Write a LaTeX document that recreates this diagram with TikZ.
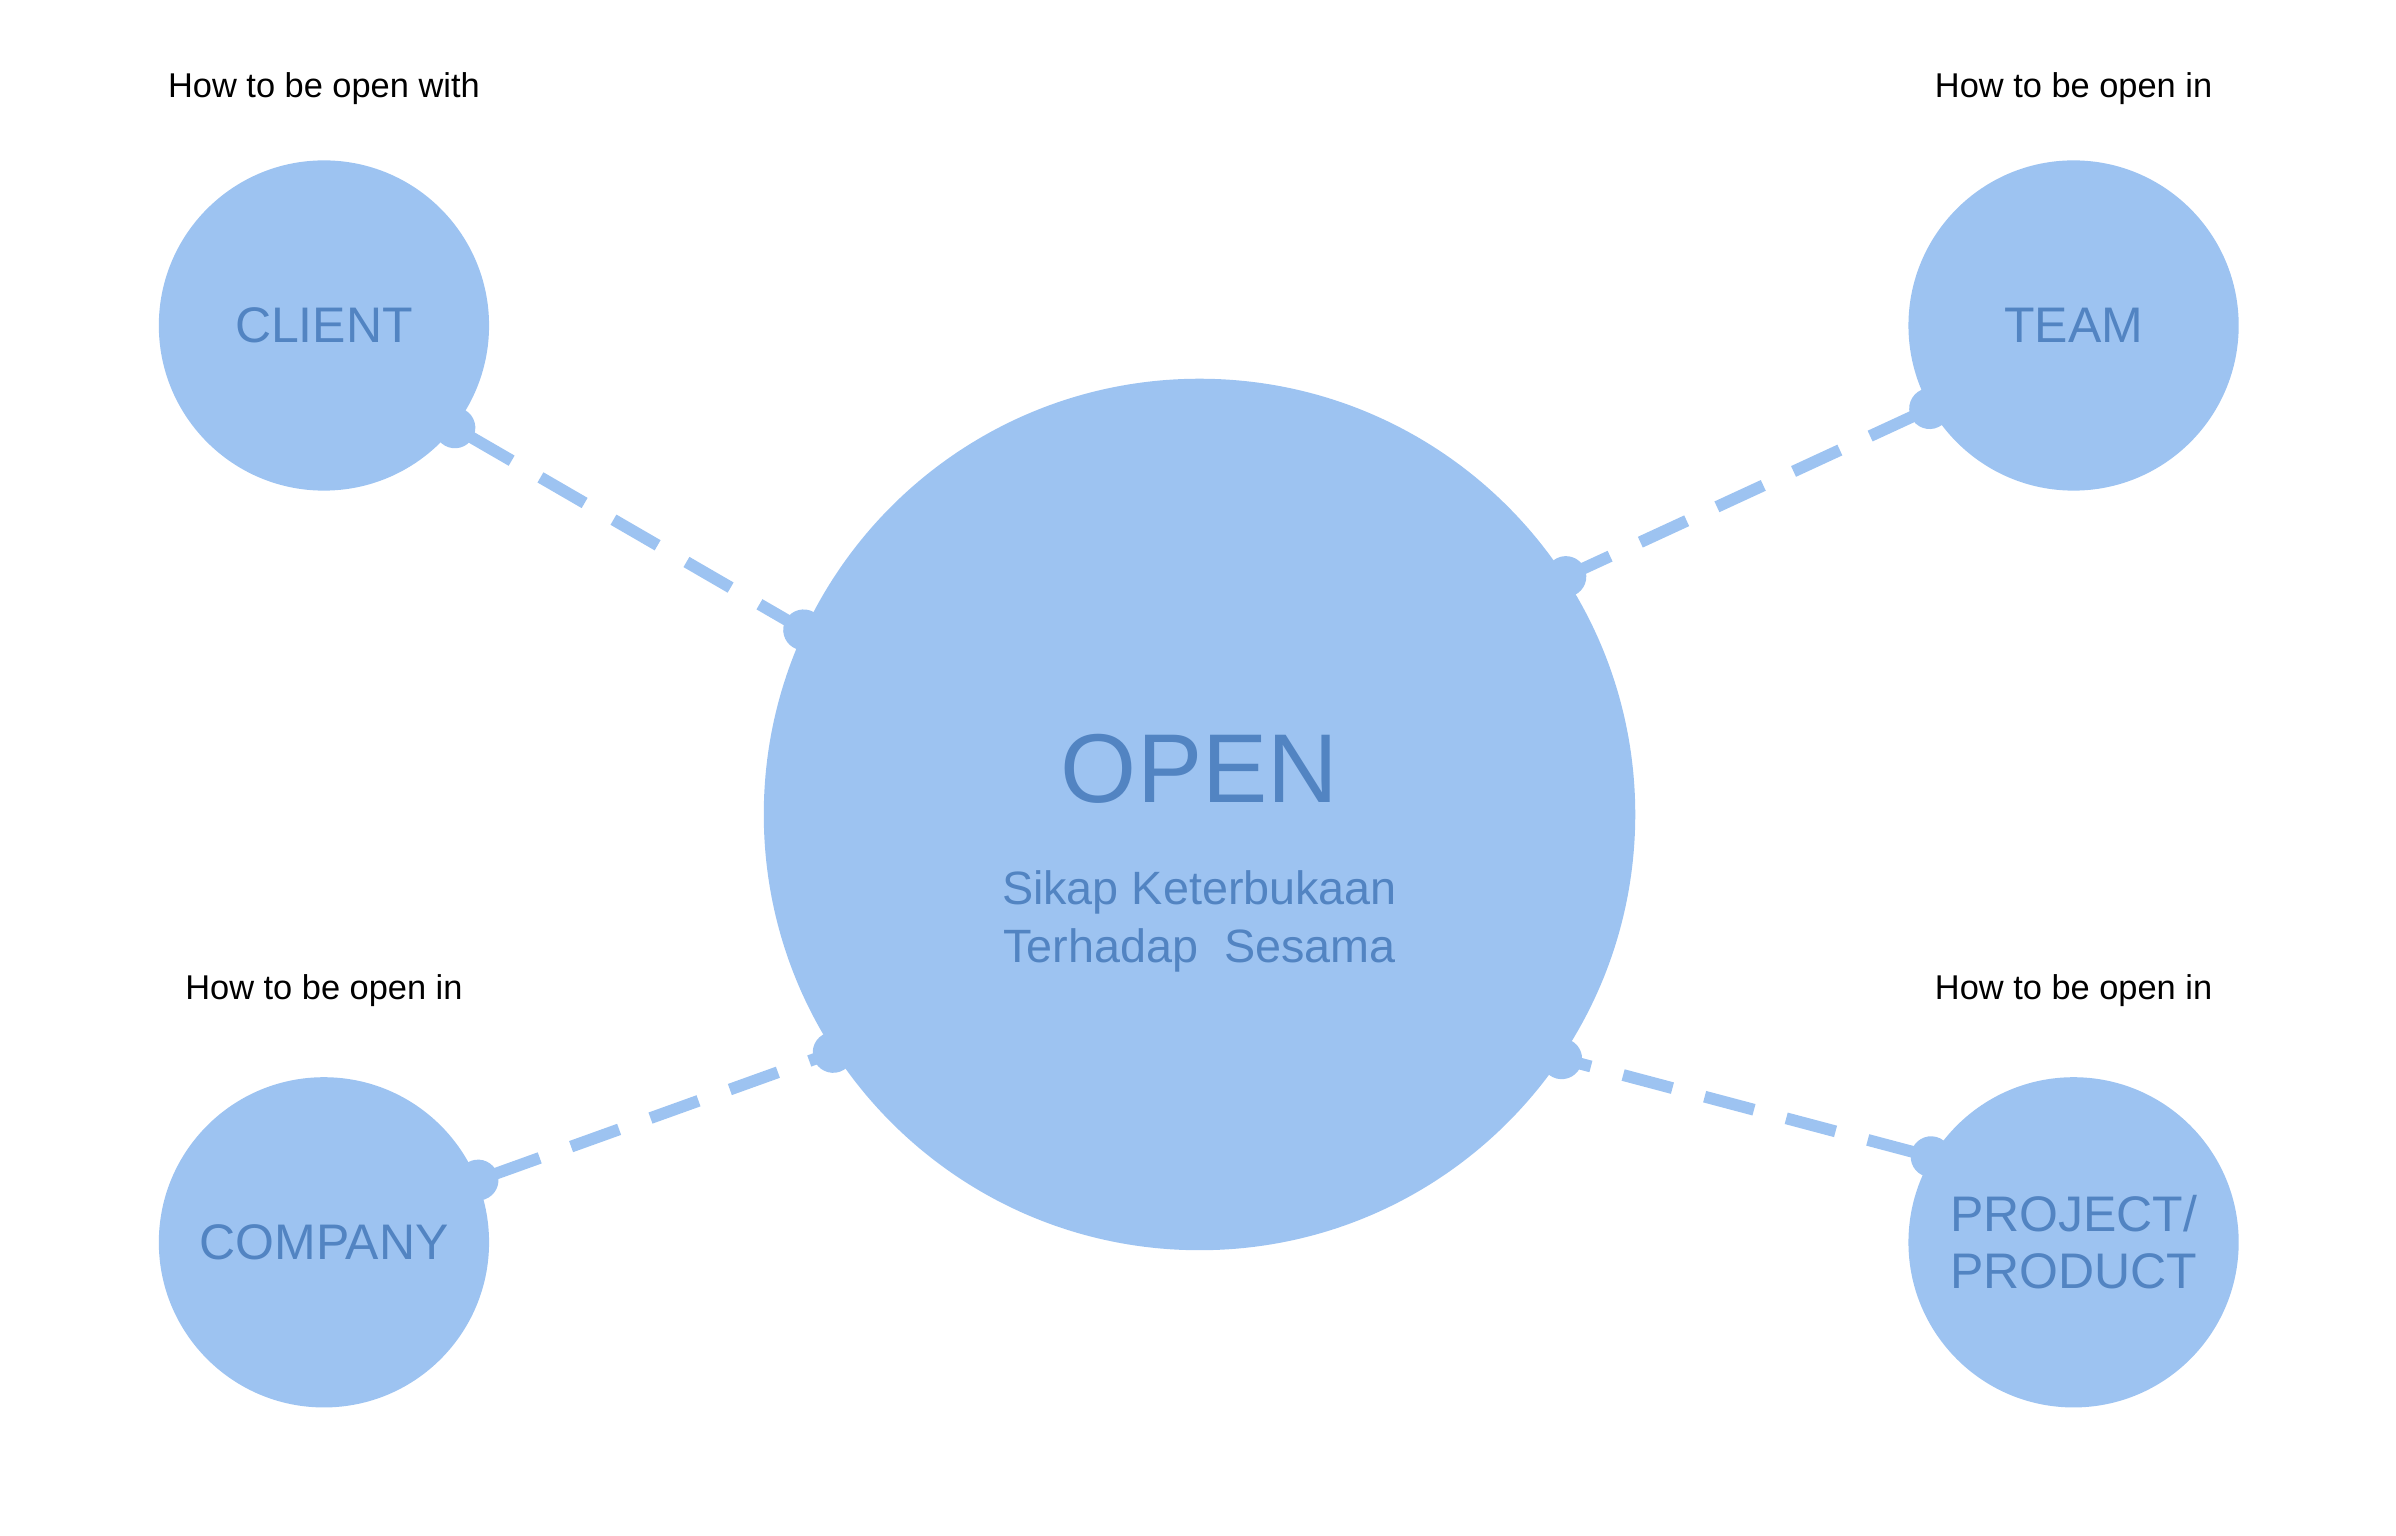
\documentclass[tikz,border=0pt]{standalone}
\usepackage{fontspec}
\setmainfont{Liberation Sans}
\usepackage[dvipsnames,svgnames]{xcolor}
\usetikzlibrary{arrows.meta,positioning}
\definecolor{bubblefill}{HTML}{9DC3F1}
\definecolor{bubbletext}{HTML}{5284C2}

\begin{document}
\begin{tikzpicture}[x=0.01cm,y=-0.01cm,
	hub/.style={circle,fill=bubblefill,draw=none,minimum size=5.7cm,inner sep=0pt},
	leaf/.style={circle,fill=bubblefill,draw=none,minimum size=2.16cm,inner sep=0pt,align=center,text=bubbletext,font=\fontsize{9.3}{10.6}\selectfont},
	note/.style={inner sep=0pt,font=\fontsize{6.4}{7.7}\selectfont},
	link/.style={line width=2.2pt,draw=bubblefill,dash pattern=on 9.5pt off 6.2pt,{Circle[length=7.6pt]}-{Circle[length=7.6pt]},shorten <=-3.8pt,shorten >=-3.8pt}]
	\useasboundingbox (0,0) rectangle (1568,1005);
	\node[hub] (open) at (785,533) {};
	\node[text=bubbletext,inner sep=0pt,anchor=base,font=\fontsize{18.2}{22}\selectfont] (opentitle) at (785,525) {OPEN};
	\node[text=bubbletext,inner sep=0pt,anchor=north,align=center,font=\fontsize{8.7}{10.8}\selectfont] (opensub) at (785,569) {Sikap Keterbukaan\\Terhadap\ \ Sesama};
	\node[leaf] (client) at (212,213) {CLIENT};
	\node[leaf] (team) at (1357,213) {TEAM};
	\node[leaf] (company) at (212,813) {COMPANY};
	\node[leaf] (project) at (1357,813) {PROJECT/\\PRODUCT};
	\node[note,above=0.35cm of client] (clientnote) {How to be open with};
	\node[note,above=0.35cm of team] (teamnote) {How to be open in};
	\node[note,above=0.45cm of company] (companynote) {How to be open in};
	\node[note,above=0.45cm of project] (projectnote) {How to be open in};
	\draw [link] (client.-38) -- (open.155);
	\draw [link] (team.210) -- (open.33);
	\draw [link] (company.22) -- (open.213);
	\draw [link] (project.149) -- (open.-34);
\end{tikzpicture}
\end{document}
